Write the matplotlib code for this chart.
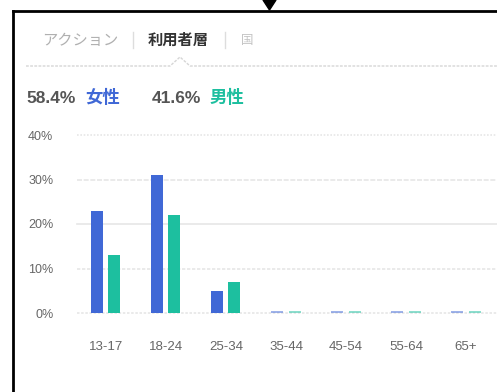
import matplotlib.pyplot as plt
import numpy as np
from matplotlib.patches import Polygon

plt.rcParams['font.family'] = ['Liberation Sans', 'Noto Sans CJK JP']
JP = ['Noto Sans CJK JP', 'Liberation Sans']

age_groups = ["13-17", "18-24", "25-34", "35-44", "45-54", "55-64", "65+"]
female_pct = [23, 31, 5, 0.4, 0.4, 0.4, 0.4]
male_pct = [13, 22, 7, 0.4, 0.4, 0.4, 0.4]
y_ticks = [0, 10, 20, 30, 40]
female_share = "58.4%"
male_share = "41.6%"

BLUE = "#4068d6"
TEAL = "#1dbf9f"
W, H = 497, 392

fig = plt.figure(figsize=(W / 100, H / 100), dpi=100)
fig.patch.set_facecolor("white")

# pixel-space overlay for the panel frame and header
bg = fig.add_axes([0, 0, 1, 1])
bg.set_xlim(0, W)
bg.set_ylim(H, 0)
bg.axis("off")

bg.plot([13, 13], [11, H], color="black", lw=2)
bg.plot([13, W], [11, 11], color="black", lw=2)
bg.add_patch(Polygon([[263, 0], [276, 0], [269.5, 10]], closed=True,
                     color="black"))

bg.text(42, 40, "アクション", fontsize=11, color="#b0b0b0", va="center",
        family=JP)
bg.plot([133, 133], [32, 48], color="#dddddd", lw=1)
bg.text(148, 40, "利用者層", fontsize=11, color="#333333",
        fontweight="bold", va="center", family=JP)
bg.plot([225, 225], [32, 48], color="#dddddd", lw=1)
bg.text(241, 40, "国", fontsize=9, color="#c4c4c4", va="center", family=JP)

bg.plot([26, 170, 180, 190, W], [66, 66, 57, 66, 66], color="#d6d6d6",
        lw=1, ls=(0, (2, 1)))

bg.text(26, 98, female_share, fontsize=12.5, color="#555555",
        fontweight="bold", va="center")
bg.text(85, 98, "女性", fontsize=12.5, color=BLUE, fontweight="bold",
        va="center", family=JP)
bg.text(152, 98, male_share, fontsize=12.5, color="#555555",
        fontweight="bold", va="center")
bg.text(210, 98, "男性", fontsize=12.5, color=TEAL, fontweight="bold",
        va="center", family=JP)

# bar chart area: x from 77 to 497 px, y 0% at 313 px, 40% at 135 px
ax = fig.add_axes([77 / W, (H - 313) / H, (W - 77) / W, (313 - 135) / H])
x = np.arange(len(age_groups))
bw = 0.2
off = 0.142
for i, (f, m) in enumerate(zip(female_pct, male_pct)):
    a = 1.0 if f >= 1 else 0.5
    ax.bar(x[i] - off, f, bw, color=BLUE, alpha=a, zorder=3)
    a = 1.0 if m >= 1 else 0.5
    ax.bar(x[i] + off, m, bw, color=TEAL, alpha=a, zorder=3)

ax.set_xlim(-0.483, 6.517)
ax.set_ylim(0, 40)

styles = {0: (0, (1.5, 1)), 10: (0, (2, 1)), 20: "-", 30: (0, (3, 1)),
          40: (0, (1, 1))}
for v in y_ticks:
    ax.axhline(v, color="#e6e6e6", lw=1.2, ls=styles[v], zorder=1,
               clip_on=False)

ax.set_yticks(y_ticks)
ax.set_yticklabels([f"{v}%" for v in y_ticks])
ax.set_xticks(x)
ax.set_xticklabels(age_groups)
ax.tick_params(axis="y", length=0, pad=17, labelsize=9, colors="#666666")
ax.tick_params(axis="x", length=0, pad=20, labelsize=9.5, colors="#666666")
for s in ax.spines.values():
    s.set_visible(False)

fig.savefig("out.png", dpi=100, facecolor="white")
